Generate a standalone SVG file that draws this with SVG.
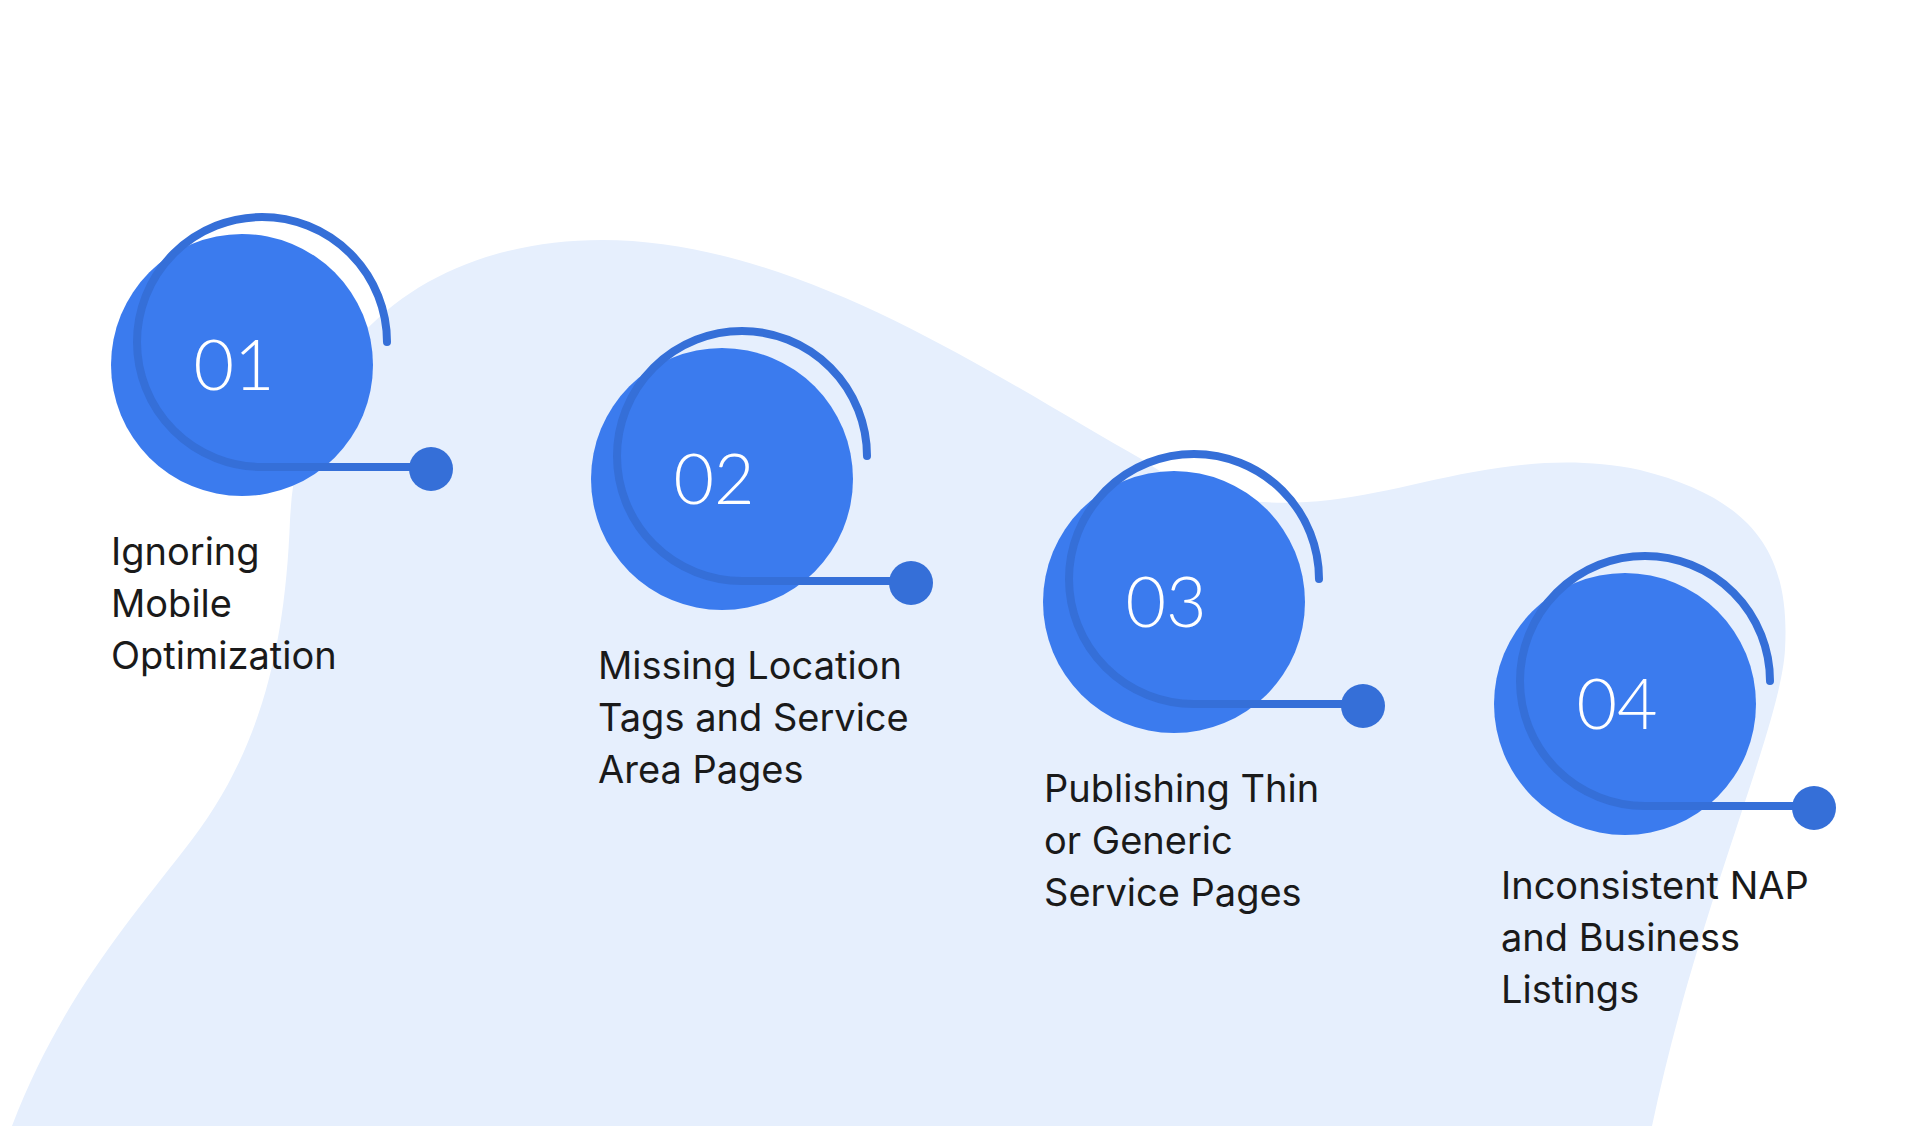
<svg xmlns="http://www.w3.org/2000/svg" width="1920" height="1126" viewBox="0 0 1920 1126">
<style>
.c{fill:#3B7BEE}
.r{fill:none;stroke:#356FD8;stroke-width:8;stroke-linecap:round}
.d{fill:#356FD8}
.n{font-family:Lato,"Noto Sans",sans-serif;font-weight:300;font-size:70px;fill:#fff;text-anchor:middle}
.t{font-family:Inter,"Noto Sans",sans-serif;font-size:38px;fill:#1a1a1a}
</style>
<rect width="1920" height="1126" fill="#fff"/>
<path d="M 12 1126 C 60 1000 130 920 184 850 C 260 755 285 650 290 520 C 300 330 440 240 602 240 C 800 240 1000 380 1143 460 C 1200 500 1260 508 1330 500 C 1420 490 1520 445 1640 470 C 1760 500 1790 560 1785 650 C 1780 730 1700 900 1652 1126 Z" fill="#E6EFFD"/>
<g id="node1" transform="translate(242,365)">
<circle class="c" r="131"/>
<path class="r" d="M 145 -23 A 125 125 0 1 0 20 102 L 189 102"/>
<circle class="d" cx="189" cy="104" r="22"/>
<text class="n" x="-8" y="25">01</text>
<text class="t" x="-131" y="200">Ignoring<tspan x="-131" dy="52">Mobile</tspan><tspan x="-131" dy="52">Optimization</tspan></text>
</g>
<g id="node2" transform="translate(722,479)">
<circle class="c" r="131"/>
<path class="r" d="M 145 -23 A 125 125 0 1 0 20 102 L 189 102"/>
<circle class="d" cx="189" cy="104" r="22"/>
<text class="n" x="-8" y="25">02</text>
<text class="t" x="-124" y="200">Missing Location<tspan x="-124" dy="52">Tags and Service</tspan><tspan x="-124" dy="52">Area Pages</tspan></text>
</g>
<g id="node3" transform="translate(1174,602)">
<circle class="c" r="131"/>
<path class="r" d="M 145 -23 A 125 125 0 1 0 20 102 L 189 102"/>
<circle class="d" cx="189" cy="104" r="22"/>
<text class="n" x="-8" y="25">03</text>
<text class="t" x="-130" y="200">Publishing Thin<tspan x="-130" dy="52">or Generic</tspan><tspan x="-130" dy="52">Service Pages</tspan></text>
</g>
<g id="node4" transform="translate(1625,704)">
<circle class="c" r="131"/>
<path class="r" d="M 145 -23 A 125 125 0 1 0 20 102 L 189 102"/>
<circle class="d" cx="189" cy="104" r="22"/>
<text class="n" x="-8" y="25">04</text>
<text class="t" x="-124" y="195">Inconsistent NAP<tspan x="-124" dy="52">and Business</tspan><tspan x="-124" dy="52">Listings</tspan></text>
</g>
<g id="connectors"/>
</svg>
